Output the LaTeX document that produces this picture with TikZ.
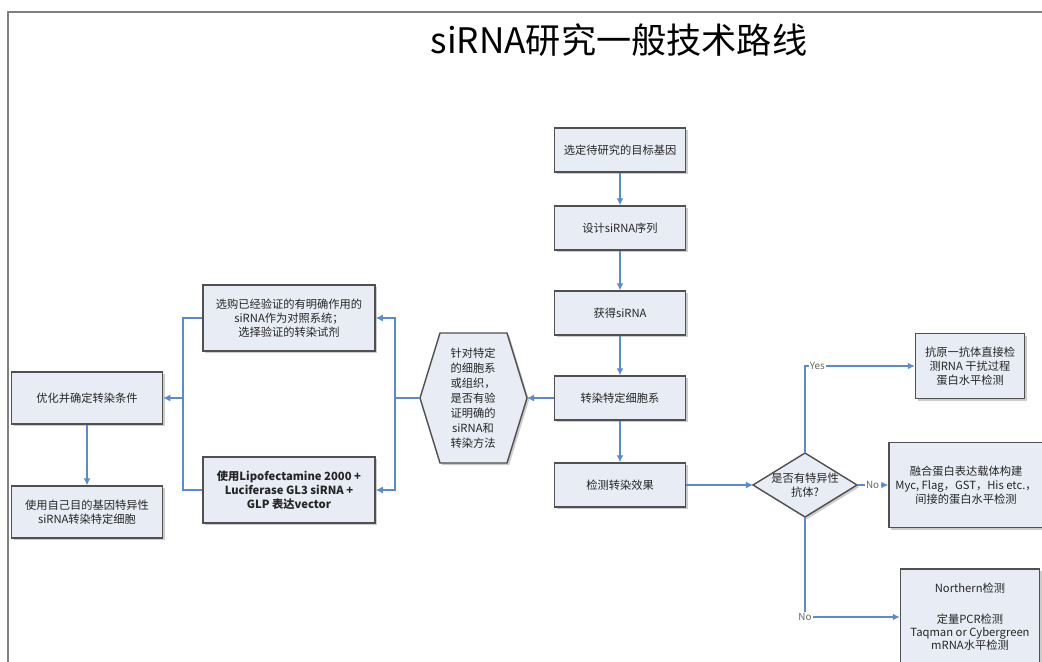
\documentclass[tikz,border=0pt]{standalone}
\usepackage{fontspec}
\setmainfont{Noto Sans CJK SC}
\usetikzlibrary{arrows.meta,shadows}

\definecolor{linkblue}{HTML}{5A8AD2}
\definecolor{boxfill}{HTML}{E8ECF5}
\definecolor{boxline}{HTML}{505050}

\tikzset{
  stepbox/.style={draw=boxline, line width=1pt, fill=boxfill, align=center,
    inner sep=2pt, text=black!85, font=\fontsize{8}{10}\selectfont,
    drop shadow={shadow xshift=1.5pt, shadow yshift=-1.5pt, opacity=0.4}},
  shapeline/.style={draw=boxline, line width=1pt, fill=boxfill,
    drop shadow={shadow xshift=1.5pt, shadow yshift=-1.5pt, opacity=0.4}},
  link/.style={draw=linkblue, line width=1pt},
  arr/.style={link, -{Latex[length=5pt,width=5pt]}},
  answer/.style={fill=white, inner sep=1pt, text=black!60, font=\fontsize{7}{8}\selectfont},
}

\begin{document}
\begin{tikzpicture}[x=0.025cm, y=-0.025cm]
  \useasboundingbox (0,0) rectangle (1042,662);

  % page frame
  \draw[gray, line width=1pt] (8,662) -- (8,12) -- (1042,12);

  % title
  \node (title) at (619,40) {\fontsize{25}{30}\selectfont siRNA研究一般技术路线};

  % main column
  \node[stepbox, minimum width=3.275cm, minimum height=1.1cm] (gene) at (620,150) {选定待研究的目标基因};
  \node[stepbox, minimum width=3.275cm, minimum height=1.1cm] (design) at (620,228) {设计siRNA序列};
  \node[stepbox, minimum width=3.275cm, minimum height=1.1cm] (obtain) at (620,313) {获得siRNA};
  \node[stepbox, minimum width=3.275cm, minimum height=1.1cm] (transfect) at (620,398) {转染特定细胞系};
  \node[stepbox, minimum width=3.275cm, minimum height=1.1cm] (detect) at (620,485) {检测转染效果};

  \draw[arr] (gene) -- (design);
  \draw[arr] (design) -- (obtain);
  \draw[arr] (obtain) -- (transfect);
  \draw[arr] (transfect) -- (detect);

  % hexagon: known method?
  \draw[shapeline] (420,398) -- (440,333) -- (507,333) -- (527,398) -- (507,463) -- (440,463) -- cycle;
  \coordinate (check-w) at (420,398);
  \coordinate (check-e) at (527,398);
  \node[align=center, text=black!85, font=\fontsize{8}{10.6}\selectfont] (check) at (473,398)
    {针对特定\\的细胞系\\或组织，\\是否有验\\证明确的\\siRNA和\\转染方法};
  \draw[arr] (transfect.west) -- (check-e);

  % control systems
  \node[stepbox, minimum width=4.3cm, minimum height=1.65cm] (ctrl) at (289,318)
    {选购已经验证的有明确作用的\\siRNA作为对照系统；\\选择验证的转染试剂};
  \node[stepbox, minimum width=4.3cm, minimum height=1.65cm, font=\fontsize{8}{10}\selectfont\bfseries] (lipo) at (289,490)
    {使用Lipofectamine 2000 +\\Luciferase GL3 siRNA +\\GLP 表达vector};
  \coordinate (split) at (395,398);
  \draw[link] (check-w) -- (split);
  \draw[arr] (split) |- (ctrl.east);
  \draw[arr] (split) |- (lipo.east);

  % optimisation
  \node[stepbox, minimum width=3.775cm, minimum height=1.3cm] (opt) at (87,398) {优化并确定转染条件};
  \node[stepbox, minimum width=3.775cm, minimum height=1.3cm] (own) at (87,512)
    {使用自己目的基因特异性\\siRNA转染特定细胞};
  \coordinate (join) at (183,398);
  \draw[link] (ctrl.west) -| (join);
  \draw[link] (lipo.west) -| (join);
  \draw[arr] (join) -- (opt.east);
  \draw[arr] (opt) -- (own);

  % diamond: antibody?
  \draw[shapeline] (753,485) -- (805,453) -- (857,485) -- (805,517) -- cycle;
  \coordinate (ab-w) at (753,485);
  \coordinate (ab-n) at (805,453);
  \coordinate (ab-e) at (857,485);
  \coordinate (ab-s) at (805,517);
  \node[align=center, text=black!85, font=\fontsize{8}{10}\selectfont] (ab) at (805,485) {是否有特异性\\抗体?};
  \draw[arr] (detect.east) -- (ab-w);

  % protein / mRNA level
  \node[stepbox, minimum width=2.725cm, minimum height=1.625cm] (yesbox) at (970,366)
    {抗原一抗体直接检\\测RNA 干扰过程\\蛋白水平检测};
  \node[stepbox, minimum width=3.85cm, minimum height=2.125cm] (fusion) at (966,485)
    {融合蛋白表达载体构建\\Myc, Flag，GST，His etc.，\\间接的蛋白水平检测};
  \node[stepbox, minimum width=3.475cm, minimum height=2.4cm, font=\fontsize{8}{9.2}\selectfont] (qpcr) at (970,617)
    {Northern检测\\[13pt]定量PCR检测\\Taqman or Cybergreen\\mRNA水平检测};

  \draw[arr] (ab-n) |- node[answer, pos=0.5, anchor=west, xshift=2pt] {Yes} (yesbox.west);
  \draw[arr] (ab-e) -- node[answer] {No} (fusion.west);
  \draw[arr] (ab-s) |- node[answer, pos=0.5] {No} (qpcr.west);
\end{tikzpicture}
\end{document}
